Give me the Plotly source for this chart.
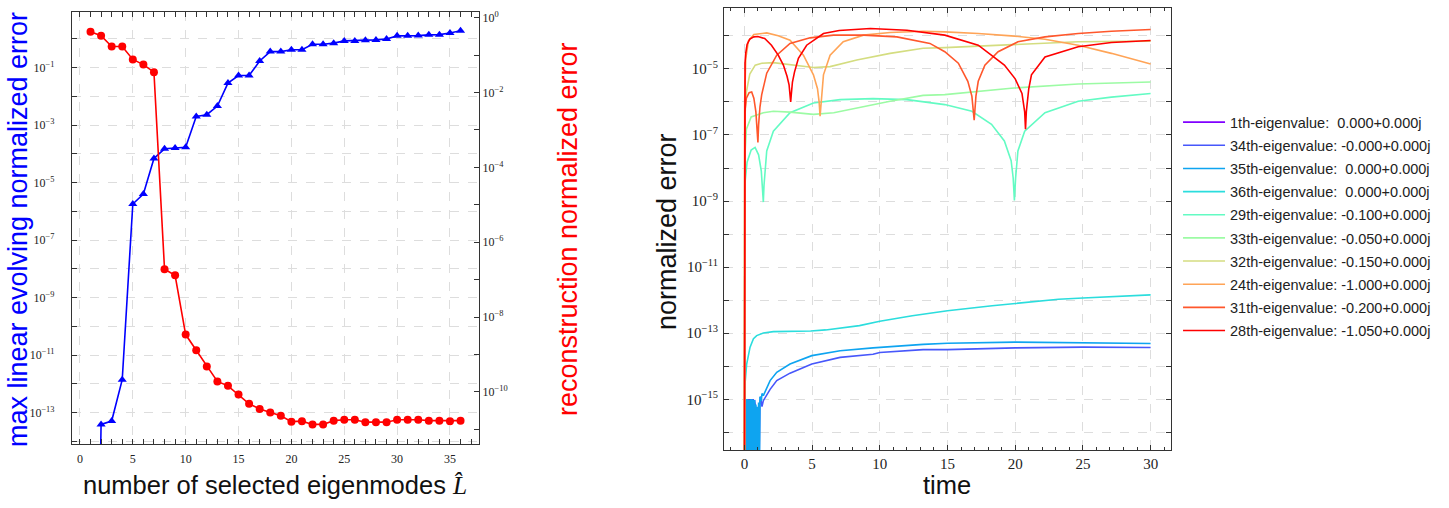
import plotly.graph_objects as go

# ---------------- left panel: error vs number of selected eigenmodes
modes = list(range(1, 37))
evolve_err = [1e-35, 3.9e-14, 5.1e-14, 1.4e-12, 1.8e-6, 4.0e-6, 6.9e-5, 1.5e-4, 1.6e-4, 1.7e-4,
              2.0e-3, 2.3e-3, 4.6e-3, 2.9e-2, 5.3e-2, 5.3e-2, 0.17, 0.36, 0.36, 0.42,
              0.42, 0.65, 0.65, 0.71, 0.85, 0.85, 0.90, 0.92, 0.99, 1.27,
              1.27, 1.30, 1.38, 1.40, 1.60, 1.90]
recon_err = [0.42, 0.33, 0.17, 0.17, 0.077, 0.056, 0.035, 1.9e-7, 1.3e-7, 3.4e-9,
             1.3e-9, 4.8e-10, 1.9e-10, 1.45e-10, 8.5e-11, 4.8e-11, 3.5e-11, 2.8e-11, 2.3e-11, 1.6e-11,
             1.65e-11, 1.35e-11, 1.35e-11, 1.7e-11, 1.8e-11, 1.8e-11, 1.55e-11, 1.55e-11, 1.55e-11, 1.8e-11,
             1.8e-11, 1.8e-11, 1.7e-11, 1.7e-11, 1.65e-11, 1.7e-11]

# ---------------- right panel: normalized error vs time, per eigenvalue
labels = ["1th-eigenvalue: \u00a00.000+0.000j", "34th-eigenvalue: -0.000+0.000j",
          "35th-eigenvalue: \u00a00.000+0.000j", "36th-eigenvalue: \u00a00.000+0.000j",
          "29th-eigenvalue: -0.100+0.000j", "33th-eigenvalue: -0.050+0.000j",
          "32th-eigenvalue: -0.150+0.000j", "24th-eigenvalue: -1.000+0.000j",
          "31th-eigenvalue: -0.200+0.000j", "28th-eigenvalue: -1.050+0.000j"]
colors = ["rgb(128,0,255)", "rgb(71,87,251)", "rgb(14,164,240)", "rgb(43,221,221)",
          "rgb(99,251,195)", "rgb(156,251,164)", "rgb(212,221,128)", "rgb(255,164,87)",
          "rgb(255,87,44)", "rgb(255,0,0)"]

t_e1 = [0, 30]
v_e1 = [0, 0]

t_e34 = [0, 0.05, 0.1, 0.15, 0.2, 0.25, 0.3, 0.35, 0.4, 0.45, 0.5, 0.55, 0.6, 0.65, 0.7, 0.75,
         0.8, 0.85, 0.9, 0.95, 1.0, 1.05, 1.1, 1.15, 1.2, 1.3, 1.4, 1.9, 2.39, 3.37, 4.98, 7.07,
         9.5, 10, 13.2, 15, 20, 25, 30]
v_e34 = [1e-18, 9.6e-16, 9.6e-16, 1e-18, 9.6e-16, 9.6e-16, 9.6e-16, 1e-18, 9.6e-16, 9.6e-16,
         1e-18, 9.6e-16, 9.6e-16, 9.6e-16, 1e-18, 9.6e-16, 7e-16, 5e-16, 1e-18, 4e-16,
         4.5e-16, 1e-18, 5e-16, 8e-16, 1.2e-15, 6e-16, 9.1e-16, 2.0e-15, 3.7e-15, 6.2e-15, 1.17e-14, 1.86e-14,
         2.3e-14, 2.6e-14, 3.2e-14, 3.2e-14, 3.6e-14, 3.8e-14, 3.7e-14]

t_e35 = [0, 0.05, 0.1, 0.15, 0.2, 0.25, 0.3, 0.35, 0.4, 0.45, 0.5, 0.55, 0.6, 0.65, 0.7, 0.75,
         0.8, 0.85, 0.9, 0.95, 1.0, 1.05, 1.1, 1.15, 1.25, 1.3, 1.4, 1.9, 2.39, 3.37, 4.98, 7.07,
         9.5, 13.2, 15, 20, 25, 30]
v_e35 = [1e-18, 9.6e-16, 1e-18, 9.6e-16, 9.6e-16, 1e-18, 9.6e-16, 1e-18, 9.6e-16, 1e-18,
         9.6e-16, 9.6e-16, 1e-18, 9.6e-16, 1e-18, 9.6e-16, 1e-18, 7e-16, 1e-18, 6e-16,
         1e-18, 8e-16, 1e-18, 1.2e-15, 9e-16, 1.5e-15, 1.3e-15, 3.7e-15, 6.6e-15, 1.17e-14, 2.1e-14, 2.95e-14,
         3.6e-14, 4.6e-14, 5.0e-14, 5.4e-14, 5.2e-14, 4.9e-14]

t_e36 = [0, 0.05, 0.17, 0.42, 0.67, 0.91, 1.4, 2.14, 4.9, 6.0, 8.5, 10.0, 12.4, 15.0, 18.3,
         20.0, 23.2, 25.0, 30]
v_e36 = [1e-20, 3e-15, 1.17e-14, 3.8e-14, 6.8e-14, 8.5e-14, 1.02e-13, 1.12e-13, 1.17e-13, 1.26e-13,
         1.7e-13, 2.3e-13, 3.4e-13, 4.8e-13, 6.8e-13, 8.1e-13, 1.07e-12, 1.17e-12, 1.45e-12]

t_e29 = [0, 0.03, 0.2, 0.5, 0.79, 1.05, 1.25, 1.35, 1.4, 1.45, 1.65, 2.14, 3.37, 5.1, 7.07,
         9.5, 12.0, 14.8, 16.8, 18.25, 19.2, 19.7, 19.85, 19.94, 20.03, 20.2, 20.7, 22.2, 24.65,
         27.1, 30]
v_e29 = [1e-20, 3e-9, 1.5e-8, 3.5e-8, 4.2e-8, 2.5e-8, 8e-9, 2.5e-9, 9.3e-10, 3e-9, 3.3e-8, 1.3e-7,
         4.7e-7, 9.3e-7, 1.17e-6, 1.26e-6, 1.17e-6, 8.3e-7, 5.2e-7, 2.1e-7, 6.6e-8, 1.66e-8, 5e-9,
         1.05e-9, 5e-9, 3.3e-8, 1.3e-7, 4.7e-7, 1.05e-6, 1.4e-6, 1.8e-6]

t_e33 = [0, 0.03, 0.15, 0.5, 1.4, 2.14, 3.37, 5.1, 6.6, 8.3, 10.76, 13.2, 14.8, 19.7, 24.65, 30]
v_e33 = [1e-20, 2e-8, 1.5e-7, 3.5e-7, 4.7e-7, 5.2e-7, 4.9e-7, 4.2e-7, 4.7e-7, 6.6e-7, 1.05e-6,
         1.58e-6, 1.66e-6, 2.6e-6, 3.5e-6, 4.0e-6]

t_e32 = [0, 0.03, 0.15, 0.4, 0.8, 1.28, 2.14, 3.37, 5.1, 6.33, 8.3, 10.76, 13.2, 14.8, 19.7,
         24.65, 30]
v_e32 = [1e-20, 3e-7, 2e-6, 7e-6, 1.3e-5, 1.48e-5, 1.55e-5, 1.32e-5, 1.1e-5, 1.17e-5, 1.86e-5,
         2.95e-5, 4.2e-5, 4.4e-5, 5.5e-5, 6.6e-5, 6.9e-5]

t_e24 = [0, 0.02, 0.1, 0.3, 0.7, 1.65, 2.5, 3.37, 4.36, 5.1, 5.4, 5.52, 5.59, 5.66, 5.84, 6.33,
         7.3, 8.8, 10.76, 13.2, 14.8, 17.27, 19.7, 22.2, 24.65, 27.1, 30]
v_e24 = [1e-20, 1e-6, 2e-5, 7e-5, 1.1e-4, 1.23e-4, 1.0e-4, 7.4e-5, 2.6e-5, 6.6e-6, 2.5e-6, 1e-6,
         3.7e-7, 1e-6, 6.6e-6, 2.6e-5, 6.6e-5, 1.05e-4, 1.26e-4, 1.38e-4, 1.32e-4, 1.17e-4, 1.0e-4,
         7.9e-5, 5.2e-5, 2.95e-5, 1.4e-5]

t_e31 = [0, 0.03, 0.15, 0.35, 0.54, 0.7, 0.85, 0.95, 1.0, 1.05, 1.15, 1.28, 1.65, 2.39, 3.37,
         4.85, 6.58, 8.8, 11.26, 13.7, 14.8, 15.8, 16.5, 16.8, 16.97, 17.1, 17.27, 17.76, 18.74,
         20.2, 22.2, 24.65, 27.1, 30]
v_e31 = [1e-20, 5e-7, 1.3e-6, 1.9e-6, 2.0e-6, 1.3e-6, 5e-7, 1.5e-7, 5.9e-8, 2e-7, 7e-7, 1.66e-6,
         7.4e-6, 2.6e-5, 5.9e-5, 8.7e-5, 1.05e-4, 1.05e-4, 9.3e-5, 5.9e-5, 3.3e-5, 1.48e-5, 4.2e-6,
         1.5e-6, 2.8e-7, 1.5e-6, 4.2e-6, 1.3e-5, 3.3e-5, 6.6e-5, 9.3e-5, 1.17e-4, 1.38e-4, 1.55e-4]

t_e28 = [0, 0.02, 0.05, 0.1, 0.2, 0.4, 0.7, 1.0, 1.5, 2.0, 2.5, 2.88, 3.15, 3.3, 3.38, 3.42,
         3.46, 3.55, 3.7, 3.99, 4.6, 5.84, 7.0, 9.3, 12.0, 14.8, 17.27, 19.2, 20.0, 20.5, 20.7,
         20.76, 20.82, 21.0, 21.2, 22.2, 24.65, 27.1, 30]
v_e28 = [1e-20, 2e-6, 1.5e-5, 3e-5, 5.5e-5, 8e-5, 9.3e-5, 9.5e-5, 8.3e-5, 5.2e-5, 2.6e-5, 1.3e-5,
         6e-6, 3.3e-6, 1.6e-6, 1e-6, 1.6e-6, 4e-6, 8e-6, 2.1e-5, 5.2e-5, 1.17e-4, 1.45e-4, 1.66e-4,
         1.48e-4, 1.05e-4, 5.2e-5, 1.3e-5, 5e-6, 1.8e-6, 5e-7, 1.5e-7, 5e-7, 2.5e-6, 6.6e-6, 2.3e-5,
         4.7e-5, 6.3e-5, 7.2e-5]

curves_t = [t_e1, t_e34, t_e35, t_e36, t_e29, t_e33, t_e32, t_e24, t_e31, t_e28]
curves_v = [v_e1, v_e34, v_e35, v_e36, v_e29, v_e33, v_e32, v_e24, v_e31, v_e28]

SERIF = "Liberation Serif"
SANS = "Liberation Sans"
AXC = "#333333"
GRID = "#dddddd"


def sup(p):
    return "10<sup>\u2212%d</sup>" % (-p) if p < 0 else "10<sup>%d</sup>" % p


def log_ticks(lo, hi, odd):
    vals = [10.0 ** p for p in range(lo, hi + 1)]
    text = [sup(p) if (p % 2 != 0) == odd else "" for p in range(lo, hi + 1)]
    return vals, text


fig = go.Figure()

fig.add_trace(go.Scatter(x=modes, y=evolve_err, mode="lines+markers", showlegend=False,
                         line=dict(color="#0000ff", width=1.6),
                         marker=dict(symbol="triangle-up", size=8, color="#0000ff"),
                         xaxis="x", yaxis="y"))
fig.add_trace(go.Scatter(x=modes, y=recon_err, mode="lines+markers", showlegend=False,
                         line=dict(color="#ff0000", width=1.6),
                         marker=dict(symbol="circle", size=8, color="#ff0000"),
                         xaxis="x", yaxis="y2"))

for lab, col, tt, vv in zip(labels, colors, curves_t, curves_v):
    fig.add_trace(go.Scatter(x=tt, y=vv, mode="lines", name=lab, legendgroup=lab,
                             line=dict(color=col, width=1.6),
                             xaxis="x2", yaxis="y3"))

# left panel was drawn smaller in the source, so its tick labels are smaller too
left_ticks = dict(showline=True, linecolor=AXC, linewidth=1.2, ticks="inside", ticklen=5,
                  tickcolor=AXC, zeroline=False,
                  tickfont=dict(family=SERIF, size=12, color="#222222"))
right_ticks = dict(showline=True, linecolor=AXC, linewidth=1.2, ticks="inside", ticklen=5,
                   tickcolor=AXC, zeroline=False,
                   tickfont=dict(family=SERIF, size=15, color="#222222"))

yv, yt = log_ticks(-14, 0, True)
y2v, y2t = log_ticks(-11, 0, False)
y3v, y3t = log_ticks(-16, -4, True)

fig.update_layout(
    width=1449, height=508,
    margin=dict(l=0, r=0, t=0, b=0),
    paper_bgcolor="white", plot_bgcolor="white",
    xaxis=dict(domain=[0.0497, 0.3306], anchor="y", range=[-0.75, 37.75], dtick=5, tick0=0,
               mirror="allticks", showgrid=True, gridcolor=GRID, griddash="dash",
               ticklabelstandoff=3,
               minor=dict(dtick=1, ticks="inside", ticklen=3, tickcolor=AXC), **left_ticks),
    yaxis=dict(domain=[0.126, 0.980], anchor="x", type="log", range=[-14.1, 0.93],
               tickvals=yv, ticktext=yt, showgrid=True, gridcolor=GRID, griddash="dash",
               ticklabelstandoff=14, **left_ticks),
    yaxis2=dict(overlaying="y", side="right", anchor="x", type="log", range=[-11.4, 0.15],
                tickvals=y2v, ticktext=y2t, showgrid=False, **left_ticks),
    xaxis2=dict(domain=[0.4997, 0.8081], anchor="y3", range=[-1.5, 31.5], dtick=5, tick0=0,
                mirror="allticks", showgrid=True, gridcolor=GRID, griddash="dash",
                minor=dict(dtick=1, ticks="inside", ticklen=3, tickcolor=AXC), **right_ticks),
    yaxis3=dict(domain=[0.1142, 0.988], anchor="x2", type="log", range=[-16.54, -3.16],
                tickvals=y3v, ticktext=y3t, mirror="allticks", showgrid=True, gridcolor=GRID,
                griddash="dash", ticklabelstandoff=2, **right_ticks),
    legend=dict(x=0.813, y=0.794, xanchor="left", yanchor="top", tracegroupgap=1.3,
                itemwidth=42,
                font=dict(family=SANS, size=14.5, color="#222222"), bgcolor="rgba(0,0,0,0)"),
)

ytitle_font = dict(family=SANS, size=27)
xtitle_font = dict(family=SANS, size=25.5)
fig.add_annotation(text="max linear evolving normalized error", x=18 / 1449, y=1 - 229 / 508,
                   xref="paper", yref="paper", xanchor="center", yanchor="middle",
                   textangle=-90, showarrow=False, font=dict(color="#0000ff", **ytitle_font))
fig.add_annotation(text="reconstruction normalized error", x=568 / 1449, y=1 - 228 / 508,
                   xref="paper", yref="paper", xanchor="center", yanchor="middle",
                   textangle=-90, showarrow=False, font=dict(color="#ff0000", **ytitle_font))
fig.add_annotation(text="number of selected eigenmodes <span style='font-family:Liberation Serif'><i>L\u0302</i></span>",
                   x=275 / 1449, y=1 - 485 / 508, xref="paper", yref="paper",
                   xanchor="center", yanchor="middle", showarrow=False,
                   font=dict(color="#111111", **xtitle_font))
fig.add_annotation(text="normalized error", x=667 / 1449, y=1 - 231 / 508,
                   xref="paper", yref="paper", xanchor="center", yanchor="middle",
                   textangle=-90, showarrow=False, font=dict(color="#111111", **ytitle_font))
fig.add_annotation(text="time", x=947 / 1449, y=1 - 485 / 508,
                   xref="paper", yref="paper", xanchor="center", yanchor="middle",
                   showarrow=False, font=dict(color="#111111", **xtitle_font))

# the page body has a default 8px margin, drop it so the figure sits at the window corner
fig.write_html("out.html", config={"displayModeBar": False},
               post_script="document.body.style.margin='0';")
